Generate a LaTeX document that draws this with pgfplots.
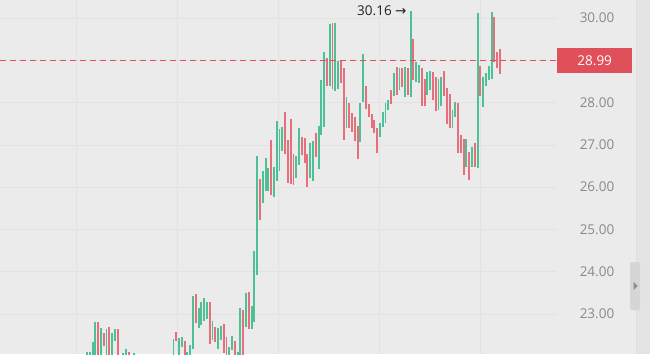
\documentclass[border=0pt]{standalone}
\usepackage{pgfplots}
\pgfplotsset{compat=1.18}
\usepackage{pgfplotstable}
\usepackage{fontspec}
\setmainfont{Open Sans}
\newfontfamily\symfont{DejaVu Sans}
\definecolor{bg}{HTML}{EBEBEB}
\definecolor{gridc}{HTML}{E2E2E2}
\definecolor{upc}{HTML}{4DC096}
\definecolor{dnc}{HTML}{E66F7B}
\definecolor{lastc}{HTML}{E0505A}
\definecolor{tickc}{HTML}{8A8A8A}
\definecolor{txtc}{HTML}{222222}

% green (up) bars: index, low, high
\pgfplotstableread{
i l h
0 21.8 22.102
1 21.8 22.102
2 21.8 22.339
3 21.8 22.812
5 21.8 22.670
7 21.8 22.646
9 21.8 22.552
10 22.362 22.646
13 21.8 22.079
14 21.8 22.173
17 21.8 22.079
31 21.8 22.410
33 21.8 22.433
34 22.220 22.457
36 21.8 22.102
37 21.8 22.268
38 22.173 23.426
40 22.670 23.143
41 22.741 23.285
42 22.835 23.379
43 22.883 23.285
45 22.386 22.835
47 22.173 22.670
48 22.386 22.717
51 21.8 22.220
52 22.150 22.480
54 21.8 22.102
55 21.8 23.143
57 22.693 23.497
59 22.646 23.190
60 22.812 24.491
61 23.923 26.737
63 25.626 26.382
64 25.909 26.690
65 25.909 26.453
67 25.767 26.477
68 26.146 27.564
69 26.382 27.375
70 26.855 27.423
75 26.217 26.737
76 26.524 27.399
80 26.217 27.044
81 26.146 27.092
83 26.429 27.446
84 27.233 28.534
85 27.423 29.196
87 28.392 29.858
89 28.274 29.882
90 28.321 28.983
93 27.399 28.132
98 27.068 27.990
99 28.014 29.149
105 27.186 27.517
106 27.423 27.777
107 27.517 27.990
108 27.825 28.061
110 28.156 28.699
112 28.298 28.818
114 28.132 28.841
116 28.132 30.160
118 28.487 28.960
119 28.463 28.889
122 28.179 28.723
123 28.298 28.747
126 27.825 28.558
127 27.919 28.605
131 27.399 27.825
132 27.659 28.014
136 26.477 27.139
138 26.477 26.950
140 26.453 30.118
142 27.896 28.605
143 28.392 28.699
144 28.534 28.865
145 28.558 30.140
}\upbars

% red (down) bars: index, low, high
\pgfplotstableread{
i l h
4 21.8 22.812
6 22.244 22.552
8 21.8 22.693
11 21.8 22.646
15 21.8 22.102
32 22.362 22.575
35 21.8 22.362
39 22.788 23.474
44 22.291 23.285
46 22.339 22.693
49 22.079 22.764
50 21.8 22.457
53 21.8 22.362
56 21.8 23.095
58 22.646 23.521
62 25.224 26.193
66 25.815 27.115
71 26.784 27.777
72 26.098 27.115
73 26.075 27.612
74 26.051 26.784
77 26.760 27.186
78 26.571 27.162
79 26.004 26.784
82 26.713 27.281
86 28.392 29.054
88 28.321 29.882
91 28.463 29.007
92 27.115 28.818
94 27.399 27.990
95 27.304 27.754
96 27.092 27.659
97 26.666 27.446
100 27.848 28.392
101 27.659 27.966
102 27.399 27.730
103 27.281 27.588
104 26.808 27.399
109 27.966 28.298
111 28.179 28.841
113 28.368 28.818
115 28.179 28.818
117 28.534 29.503
120 27.919 28.818
121 27.919 28.558
124 28.061 28.723
125 27.801 28.605
128 28.156 28.747
129 27.494 28.345
130 27.399 28.203
133 26.808 27.990
134 26.808 27.233
135 26.288 27.139
137 26.169 26.831
139 26.477 27.044
141 28.156 28.865
146 28.960 30.024
147 28.818 29.196
148 28.676 29.267
}\dnbars

\begin{document}
\begin{tikzpicture}[x=1pt,y=1pt]
\path[use as bounding box] (0,0) rectangle (650,354);
\fill[bg] (0,0) rectangle (650,354);
\fill[color=bg!97!black] (636,0) rectangle (650,354);
\draw[color=black!13, line width=0.8pt] (636,0) -- (636,354);
\begin{axis}[
  at={(0,0)}, anchor=south west,
  width=557pt, height=354pt, scale only axis,
  xmin=-31.18, xmax=168.46,
  ymin=22.055, ymax=30.426,
  axis line style={draw=none},
  major tick length=0pt,
  xtick={-3.9,32.3,68.5,104.7,140.9},
  xticklabels={},
  ytick={22,23,24,25,26,27,28,30},
  extra y ticks={29},
  extra y tick labels={},
  yticklabel pos=right,
  yticklabel style={anchor=center, xshift=40pt, text=tickc, font=\fontsize{13.5}{14}\selectfont,
    /pgf/number format/.cd, fixed, fixed zerofill, precision=2, assume math mode=true},
  grid=major,
  major grid style={color=gridc, line width=0.7pt},
]
\addplot[draw=none, mark=none, forget plot,
  error bars/.cd, y dir=both, y explicit, error mark=none,
  error bar style={draw=upc, solid, line width=1.9pt}]
  table[x=i, y expr=(\thisrow{h}+\thisrow{l})/2, y error expr=(\thisrow{h}-\thisrow{l})/2] {\upbars};
\addplot[draw=none, mark=none, forget plot,
  error bars/.cd, y dir=both, y explicit, error mark=none,
  error bar style={draw=dnc, solid, line width=1.9pt}]
  table[x=i, y expr=(\thisrow{h}+\thisrow{l})/2, y error expr=(\thisrow{h}-\thisrow{l})/2] {\dnbars};
\addplot[lastc, line width=0.8pt, dash pattern=on 6pt off 4pt, forget plot]
  coordinates {(-31.18,28.99) (168.46,28.99)};
\node[anchor=east, text=txtc, font=\fontsize{13.5}{14}\selectfont, inner sep=0pt]
  at (axis cs:114.6,30.17) {30.16 {\symfont →}};
\coordinate (lastp) at (axis cs:168.46,28.99);
\end{axis}
\node[fill=lastc, text=white, anchor=west, minimum width=75pt, minimum height=25pt, inner sep=0pt,
  font=\fontsize{13.5}{14}\selectfont] at (lastp) {28.99};
\fill[color=black!16, rounded corners=2pt] (630,44) rectangle (640,92);
\fill[color=black!45] (633.5,72) -- (637.5,68) -- (633.5,64) -- cycle;
\end{tikzpicture}
\end{document}
